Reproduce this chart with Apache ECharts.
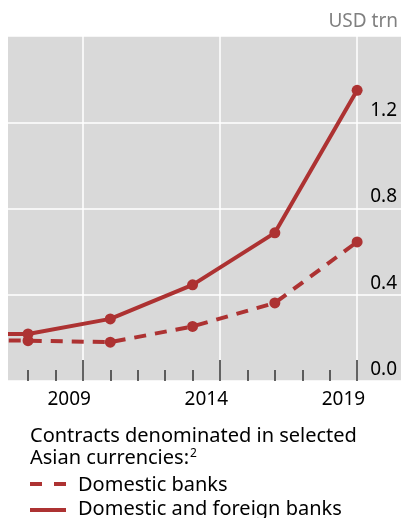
<!DOCTYPE html>
<html>
<head>
<meta charset="utf-8">
<script src="https://cdn.jsdelivr.net/npm/echarts@6/dist/echarts.min.js"></script>
<style>
html,body{margin:0;padding:0;background:#fff;}
#chart{width:401px;height:518px;}
</style>
</head>
<body>
<div id="chart"></div>
<script>
// Data (USD trn)
const years = [2004, 2007, 2010, 2013, 2016, 2019];
const domesticAndForeign = [0.22, 0.218, 0.288, 0.446, 0.687, 1.348];
const domestic = [0.19, 0.187, 0.18, 0.253, 0.362, 0.645];
const minorTickYears = [2007, 2008, 2009, 2010, 2011, 2012, 2013, 2014, 2015, 2016, 2017, 2018, 2019];
const labelYears = [2009, 2014, 2019];
const seriesNames = ['Domestic banks', 'Domestic and foreign banks'];
const legendTitle = ['Contracts denominated in selected', 'Asian currencies:'];
const unitLabel = 'USD trn';

const RED = '#ad3232';
const FONT = '"Noto Sans", sans-serif';

const pairs = (xs, ys) => xs.map((x, i) => [x, ys[i]]);
// year labels sit centred in the year interval that ends at the tick
const labelPositions = labelYears.map(y => y - 0.5);

const chart = echarts.init(document.getElementById('chart'), null, {renderer: 'canvas'});
const xMin = 2006.27, xMax = 2020.6;

chart.setOption({
  animation: false,
  backgroundColor: '#ffffff',
  grid: {left: 8, right: 0, top: 36, bottom: 137, show: true, backgroundColor: '#d9d9d9', borderWidth: 0},
  xAxis: [
    {
      type: 'value', min: xMin, max: xMax, position: 'bottom',
      axisLine: {show: false},
      axisTick: {show: true, inside: true, length: 11, customValues: minorTickYears, lineStyle: {color: '#333', width: 1.5}},
      axisLabel: {show: false},
      splitLine: {show: false}
    },
    {
      type: 'value', min: xMin, max: xMax, position: 'bottom',
      axisLine: {show: false},
      axisTick: {show: true, inside: true, length: 21, customValues: labelYears, lineStyle: {color: '#333', width: 1.5}},
      axisLabel: {show: true, customValues: labelPositions, margin: 9, color: '#000', fontSize: 19, fontFamily: FONT,
        formatter: v => String(Math.round(v + 0.5))},
      splitLine: {show: true, lineStyle: {color: '#ffffff', width: 1.5}}
    }
  ],
  yAxis: {
    type: 'value', position: 'right', min: 0, max: 1.6, interval: 0.4,
    axisLine: {show: false}, axisTick: {show: false},
    axisLabel: {inside: true, margin: 4, color: '#000', fontSize: 19, fontFamily: FONT, verticalAlign: 'bottom',
      padding: [0, 0, 2, 0],
      formatter: v => (Math.abs(v - 1.6) < 1e-9 ? '' : v.toFixed(1))},
    splitLine: {show: true, lineStyle: {color: '#ffffff', width: 1.5}}
  },
  series: [
    {
      name: seriesNames[0], type: 'line', xAxisIndex: 0, data: pairs(years, domestic),
      symbol: 'circle', symbolSize: 11, clip: true,
      lineStyle: {color: RED, width: 4, type: [12, 9]},
      itemStyle: {color: RED}
    },
    {
      name: seriesNames[1], type: 'line', xAxisIndex: 0, data: pairs(years, domesticAndForeign),
      symbol: 'circle', symbolSize: 11, clip: true,
      lineStyle: {color: RED, width: 4},
      itemStyle: {color: RED}
    }
  ],
  graphic: [
    {type: 'rect', z: 100, shape: {x: 0, y: 30, width: 8, height: 360}, style: {fill: '#ffffff'}},
    {type: 'text', right: 3, top: 12, style: {text: unitLabel, fill: '#808080', fontSize: 19, fontFamily: FONT}},
    {type: 'text', left: 30, top: 425, style: {
      text: legendTitle[0] + '\n' + legendTitle[1] + '{sup|2}',
      fill: '#000', fontSize: 20, fontFamily: FONT, lineHeight: 22.5,
      rich: {sup: {fontSize: 12, fontFamily: FONT, verticalAlign: 'top', lineHeight: 22.5, padding: [0, 0, 10, 1]}}
    }},
    {type: 'line', shape: {x1: 30, y1: 484, x2: 66, y2: 484}, style: {stroke: RED, lineWidth: 4, lineDash: [12, 12]}},
    {type: 'text', left: 78, top: 475, style: {text: seriesNames[0], fill: '#000', fontSize: 20, fontFamily: FONT}},
    {type: 'line', shape: {x1: 30, y1: 510, x2: 66, y2: 510}, style: {stroke: RED, lineWidth: 4}},
    {type: 'text', left: 78, top: 499, style: {text: seriesNames[1], fill: '#000', fontSize: 20, fontFamily: FONT}}
  ]
});
</script>
</body>
</html>
